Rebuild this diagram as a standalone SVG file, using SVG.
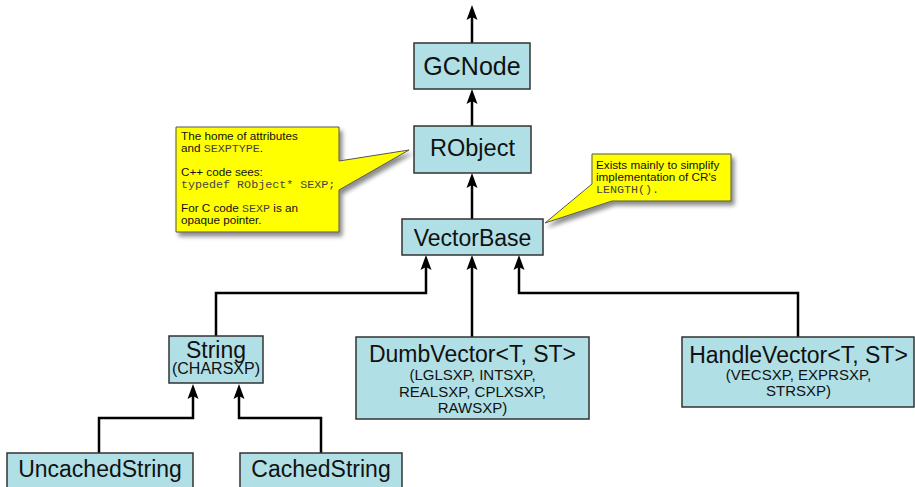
<svg xmlns="http://www.w3.org/2000/svg" width="915" height="487" viewBox="0 0 915 487">
<defs>
<marker id="ah" markerUnits="userSpaceOnUse" markerWidth="20" markerHeight="20" refX="3" refY="0" orient="auto" overflow="visible">
<path d="M0,-5.5 L15,0 L0,5.5 L3,0 Z" fill="#000"/>
</marker>
<filter id="sh" x="-10%" y="-10%" width="130%" height="140%">
<feDropShadow dx="3" dy="4" stdDeviation="2" flood-color="#000" flood-opacity="0.45"/>
</filter>
</defs>
<style>
.box{fill:#b0dfe5;stroke:#333;stroke-width:1.5}
.t{font-family:"Liberation Sans",Arial,sans-serif;font-size:23px;fill:#111;text-anchor:middle}
.s{font-family:"Liberation Sans",Arial,sans-serif;font-size:15px;fill:#111;text-anchor:middle}
.c{font-family:"Liberation Sans",Arial,sans-serif;font-size:11.7px;fill:#111}
.m{font-family:"Liberation Mono","Courier New",monospace;fill:#444}
.co{fill:#ffff00;stroke:#555;stroke-width:1}
.ln{fill:none;stroke:#000;stroke-width:2.5;marker-end:url(#ah)}
</style>
<rect width="915" height="487" fill="#fff"/>
<g id="connectors">
<path class="ln" d="M472,43 V17"/>
<path class="ln" d="M472,126 V101"/>
<path class="ln" d="M472,219 V185"/>
<path class="ln" d="M216,336 V293 H426 V267"/>
<path class="ln" d="M472,337 V267"/>
<path class="ln" d="M798,337 V293 H519 V267"/>
<path class="ln" d="M99,453 V418 H193 V396"/>
<path class="ln" d="M321,453 V418 H239 V396"/>
</g>
<g id="gcnode">
<rect class="box" x="414" y="43" width="116" height="46"/>
<text class="t" x="472" y="75" style="font-size:25px">GCNode</text>
</g>
<g id="robject">
<rect class="box" x="414" y="126" width="117" height="47"/>
<text class="t" x="472.5" y="156" style="font-size:23.5px">RObject</text>
</g>
<g id="vectorbase">
<rect class="box" x="402" y="219" width="141" height="36"/>
<text class="t" x="472.5" y="246">VectorBase</text>
</g>
<g id="string">
<rect class="box" x="169" y="336" width="94" height="47"/>
<text class="t" x="216" y="358">String</text>
<text class="s" x="216" y="374" style="font-size:16px">(CHARSXP)</text>
</g>
<g id="dumbvector">
<rect class="box" x="356" y="337" width="233" height="82"/>
<text class="t" x="472.5" y="362">DumbVector&lt;T, ST&gt;</text>
<text class="s" x="472.5" y="380">(LGLSXP, INTSXP,</text>
<text class="s" x="472.5" y="396.5">REALSXP, CPLXSXP,</text>
<text class="s" x="472.5" y="412.5">RAWSXP)</text>
</g>
<g id="handlevector">
<rect class="box" x="682" y="337" width="232" height="70"/>
<text class="t" x="798.5" y="363">HandleVector&lt;T, ST&gt;</text>
<text class="s" x="798.5" y="380">(VECSXP, EXPRSXP,</text>
<text class="s" x="798.5" y="396">STRSXP)</text>
</g>
<g id="uncachedstring">
<rect class="box" x="7" y="453" width="186" height="45"/>
<text class="t" x="100" y="477">UncachedString</text>
</g>
<g id="cachedstring">
<rect class="box" x="240" y="453" width="162" height="45"/>
<text class="t" x="321" y="477">CachedString</text>
</g>
<g id="note-robject">
<path class="co" filter="url(#sh)" d="M176,127 H339 V161 L409,150 L339,190 V232 H176 Z"/>
<text class="c" x="181" y="140">The home of attributes</text>
<text class="c" x="181" y="152">and <tspan class="m">SEXPTYPE</tspan>.</text>
<text class="c" x="181" y="176">C++ code sees:</text>
<text class="c m" x="181" y="188">typedef RObject* SEXP;</text>
<text class="c" x="181" y="212">For C code <tspan class="m">SEXP</tspan> is an</text>
<text class="c" x="181" y="224">opaque pointer.</text>
</g>
<g id="note-vectorbase">
<path class="co" filter="url(#sh)" d="M592,154 H731 V201 H612 L545,223 L592,184 Z"/>
<text class="c" x="596" y="169">Exists mainly to simplify</text>
<text class="c" x="596" y="181">implementation of CR's</text>
<text class="c m" x="596" y="193">LENGTH().</text>
</g>
</svg>
